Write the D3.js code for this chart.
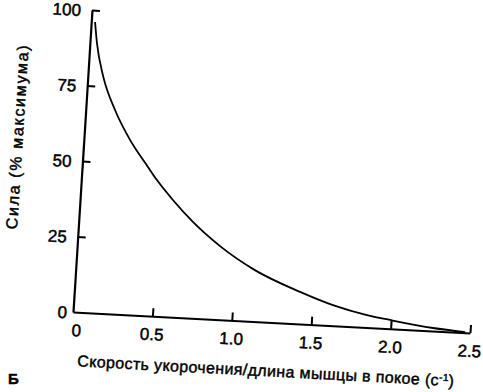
<!DOCTYPE html>
<html>
<head>
<meta charset="utf-8">
<script src="https://cdn.jsdelivr.net/npm/d3@7"></script>
<style>
  body { margin: 0; background: #fff; }
  svg text { font-family: "Liberation Sans", Arial, sans-serif; fill: #000; stroke: #000; stroke-width: 0.45px; }
</style>
</head>
<body>
<div id="chart"></div>
<script>
// Force-velocity curve, values
const velocity = [0.024, 0.044, 0.097, 0.184, 0.29, 0.413, 0.475, 0.583, 0.717, 0.897, 1.125, 1.417, 1.629, 1.846, 1.993, 2.266, 2.47]
const force = [96.1, 89.2, 78.2, 67.4, 57.8, 49.2, 45.0, 38.7, 31.8, 24.3, 17.0, 10.6, 6.8, 4.1, 2.9, 1.0, 0.2]
const xTicks = [0, 0.5, 1.0, 1.5, 2.0, 2.5]
const yTicks = [0, 25, 50, 75, 100]

const width = 483
const height = 392
const W = 397.5   // plot width in its own frame
const H = 302.5   // plot height in its own frame

const svg = d3.select("#chart")
  .append("svg")
  .attr("width", width)
  .attr("height", height)

// the scanned figure is slightly tilted, so the plot frame is tilted too
const g = svg.append("g")
  .attr("transform", `matrix(${397 / W},${21 / W},${-19 / H},${302 / H},92,10)`)

const x = d3.scaleLinear().domain([0, 2.5]).range([0, W])
const y = d3.scaleLinear().domain([0, 100]).range([H, 0])

// x axis, ticks pointing up
const xAxis = g.append("g")
  .attr("transform", `translate(0,${H})`)
  .call(d3.axisBottom(x).tickValues(xTicks).tickSizeInner(-8).tickSizeOuter(0)
    .tickFormat(d => d === 0 ? "0" : d3.format(".1f")(d)))
xAxis.select(".domain").attr("stroke", "#000").attr("stroke-width", 2.2)
xAxis.selectAll(".tick line").attr("stroke", "#000").attr("stroke-width", 2)
  .filter(d => d === 0).remove()
xAxis.selectAll(".tick text")
  .attr("y", 24).attr("dy", 0)
  .attr("dx", d => d === 0 ? 4 : 0)
  .style("font-size", "17px")

// y axis, ticks pointing right
const yAxis = g.append("g")
  .call(d3.axisLeft(y).tickValues(yTicks).tickSizeInner(-8).tickSizeOuter(0))
yAxis.select(".domain").attr("stroke", "#000").attr("stroke-width", 2.2)
yAxis.selectAll(".tick line").attr("stroke", "#000").attr("stroke-width", 2)
  .filter(d => d === 0).remove()
yAxis.selectAll(".tick text")
  .attr("x", d => d === 0 ? -6 : -11)
  .attr("dy", "0.36em")
  .style("font-size", "17px")

svg.selectAll(".tick text")
  .style("font-family", "'Liberation Sans', Arial, sans-serif")
  .attr("fill", "#000")
  .attr("stroke", "#000")
  .attr("stroke-width", 0.45)

// curve
const line = d3.line()
  .x((d, i) => x(velocity[i]))
  .y((d, i) => y(force[i]))
  .curve(d3.curveMonotoneX)

g.append("path")
  .datum(force)
  .attr("d", line)
  .attr("fill", "none")
  .attr("stroke", "#000")
  .attr("stroke-width", 1.8)

// axis titles
const xTitle = g.append("text")
  .attr("x", 196)
  .attr("y", H + 54)
  .attr("text-anchor", "middle")
  .style("font-size", "16px")
  .attr("textLength", 377)
xTitle.append("tspan").text("Скорость укорочения/длина мышцы в покое (с")
xTitle.append("tspan").attr("baseline-shift", "super").style("font-size", "10px").text("-1")
xTitle.append("tspan").text(")")

g.append("text")
  .attr("transform", `translate(-61,131) rotate(-90)`)
  .attr("text-anchor", "middle")
  .style("font-size", "16px")
  .attr("textLength", 184)
  .text("Сила (% максимума)")

svg.append("text")
  .attr("x", 8)
  .attr("y", 384)
  .style("font-size", "15px")
  .style("font-weight", "bold")
  .text("Б")
</script>
</body>
</html>
